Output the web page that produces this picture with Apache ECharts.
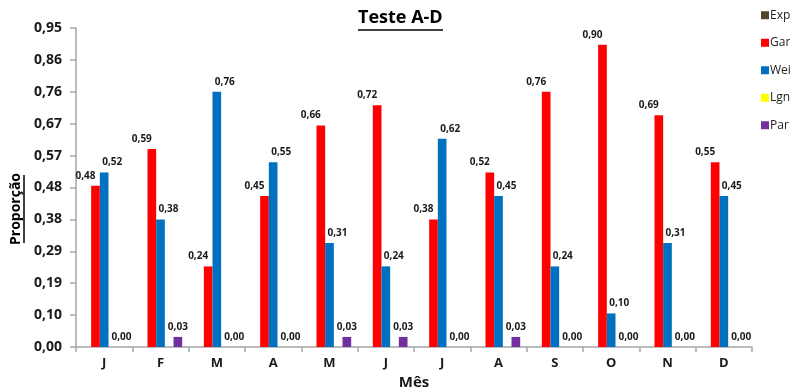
<!DOCTYPE html>
<html><head><meta charset="utf-8">
<script src="https://cdn.jsdelivr.net/npm/echarts@6/dist/echarts.min.js"></script>
<style>html,body{margin:0;padding:0;background:#fff}#c{width:790px;height:390px}</style>
</head><body><div id="c"></div>
<script>
const months = ['J','F','M','A','M','J','J','A','S','O','N','D'];
const seriesNames = ['Exp','Gam','Wei','Lgn','Par'];
const expVals = [0,0,0,0,0,0,0,0,0,0,0,0];
const gamVals = [0.48,0.59,0.24,0.45,0.66,0.72,0.38,0.52,0.76,0.90,0.69,0.55];
const weiVals = [0.52,0.38,0.76,0.55,0.31,0.24,0.62,0.45,0.24,0.10,0.31,0.45];
const lgnVals = [0,0,0,0,0,0,0,0,0,0,0,0];
const parVals = [0,0.03,0,0,0.03,0.03,0,0.03,0,0,0,0];
const colors = ['#4F4628','#FF0000','#0070C0','#FFFF00','#7030A0'];
const FONT = 'Open Sans';
const fmt = v => (Math.round(v*100+1e-6)/100).toFixed(2).replace('.', ',');
function lbl(show, dx){
  return {show: show, position:'top', distance:5, offset:[dx,0], fontFamily:FONT, fontWeight:'bold', fontSize:10, color:'#1a1a1a',
    formatter: p => fmt(p.value)};
}
const allVals = [expVals, gamVals, weiVals, lgnVals, parVals];
const labelCfg = [lbl(false,0), lbl(true,-10), lbl(true,8), lbl(false,0), lbl(true,0)];
const chart = echarts.init(document.getElementById('c'));
chart.setOption({
  animation:false,
  color: colors,
  grid:{left:76, right:38, top:28, bottom:43, containLabel:false, outerBoundsMode:'none'},
  legend:{orient:'vertical', left:761, top:8, padding:0, itemWidth:8, itemHeight:8, itemGap:13, icon:'rect',
    textStyle:{fontFamily:FONT, fontSize:12, lineHeight:14.5, color:'#222', padding:[0,0,0,-4]}, data: seriesNames},
  xAxis:{type:'category', data:months,
    axisLine:{lineStyle:{color:'#A6A6A6', width:1.5}},
    axisTick:{show:true, length:5, lineStyle:{color:'#A6A6A6', width:1.5}},
    axisLabel:{fontFamily:FONT, fontWeight:'bold', fontSize:13, color:'#1a1a1a', margin:10},
    name:'Mês', nameLocation:'middle', nameGap:25,
    nameTextStyle:{fontFamily:FONT, fontWeight:'bold', fontSize:15, color:'#1a1a1a', verticalAlign:'top'}},
  yAxis:{type:'value', min:0, max:0.95, interval:0.095,
    axisLine:{show:true, lineStyle:{color:'#A6A6A6', width:1.5}},
    axisTick:{show:true, length:6, lineStyle:{color:'#A6A6A6', width:1.5}},
    splitLine:{show:false},
    axisLabel:{fontFamily:FONT, fontWeight:'bold', fontSize:14, color:'#1a1a1a', margin:14, formatter: v => fmt(v)}},
  graphic:[
    {type:'text', left:358, top:9, z:10, style:{text:'Teste A-D', fontFamily:FONT, fontWeight:'bold', fontSize:18, fill:'#000'}},
    {type:'line', shape:{x1:358, y1:30, x2:443, y2:30}, style:{stroke:'#000', lineWidth:1.5}},
    {type:'text', x:9, y:209, rotation:Math.PI/2, style:{text:'Proporção', align:'center', verticalAlign:'top', fontFamily:FONT, fontWeight:'bold', fontSize:14, fill:'#000'}},
    {type:'line', shape:{x1:24, y1:175, x2:24, y2:243}, style:{stroke:'#000', lineWidth:1.5}}
  ],
  series: seriesNames.map((n,i)=>({
    name:n, type:'bar', data: allVals[i], barGap:'0%', barCategoryGap:'23%',
    label: labelCfg[i], itemStyle:{color: colors[i]}
  }))
});
</script></body></html>
